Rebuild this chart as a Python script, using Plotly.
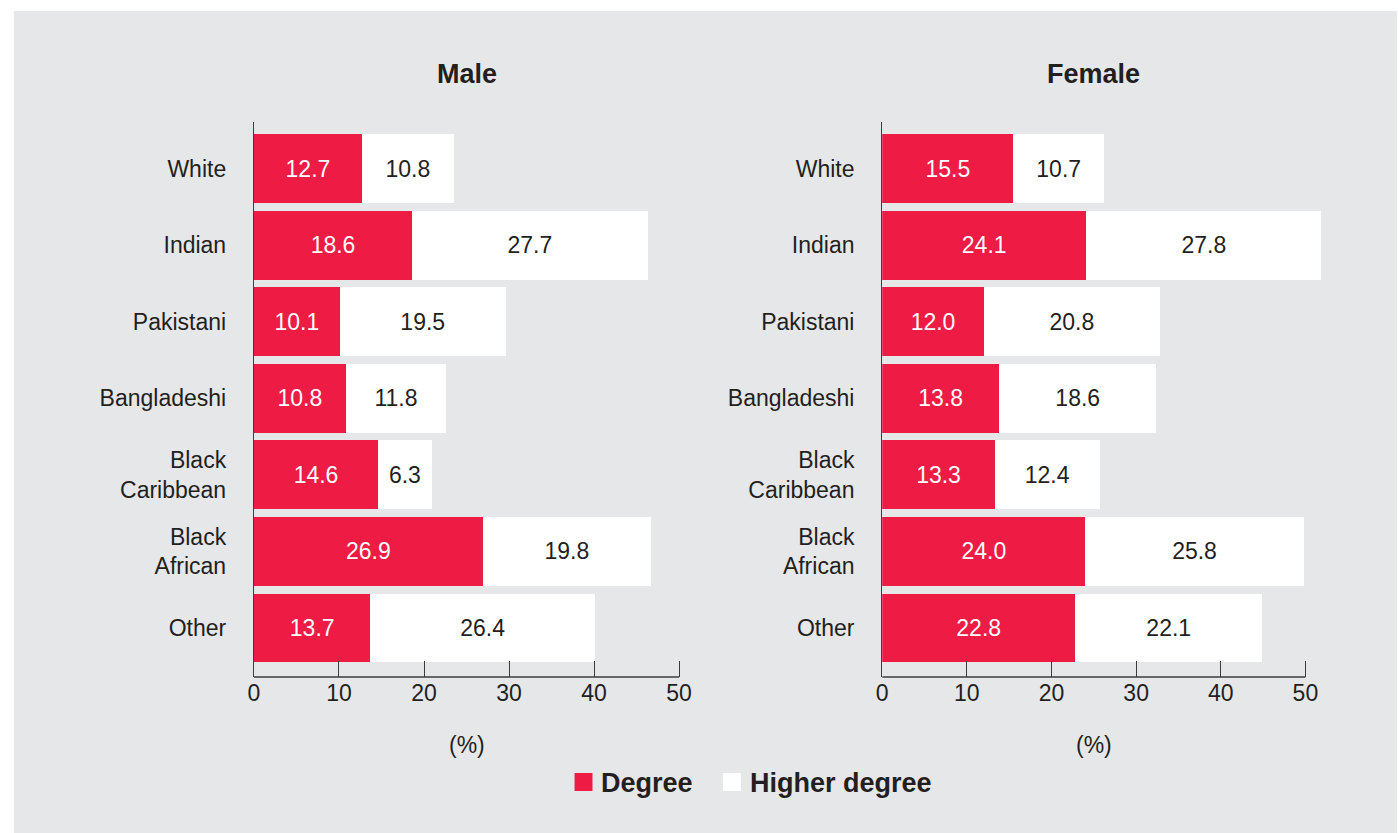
import plotly.graph_objects as go

# Ethnic groups, top to bottom
groups = ["White", "Indian", "Pakistani", "Bangladeshi",
          "Black<br>Caribbean", "Black<br>African", "Other"]

# Percentages holding a first degree / a higher degree
male_degree = [12.7, 18.6, 10.1, 10.8, 14.6, 26.9, 13.7]
male_higher = [10.8, 27.7, 19.5, 11.8, 6.3, 19.8, 26.4]
female_degree = [15.5, 24.1, 12.0, 13.8, 13.3, 24.0, 22.8]
female_higher = [10.7, 27.8, 20.8, 18.6, 12.4, 25.8, 22.1]

x_ticks = [0, 10, 20, 30, 40, 50]

RED = "#ee1b45"
WHITE = "#ffffff"
INK = "#231f20"
AXIS = "#3c3c3c"
PANEL = "#e6e7e9"
FONT = "Liberation Sans, Arial, Helvetica, sans-serif"

W, H = 1398, 833
X_MAX = 52.3  # room for bars that run past the last tick


def px_x(p):
    return p / W


def px_y(p):
    return 1 - p / H


fig = go.Figure()


def add_pair(deg, hig, xa, ya):
    for vals, col, tcol in ((deg, RED, WHITE), (hig, WHITE, INK)):
        fig.add_trace(go.Bar(
            y=groups, x=vals, orientation="h",
            marker=dict(color=col, line=dict(width=0)),
            width=0.9,
            text=[f"{v:.1f}" for v in vals],
            textposition="inside", insidetextanchor="middle",
            textangle=0,
            insidetextfont=dict(family=FONT, size=23, color=tcol),
            showlegend=False, hoverinfo="skip",
            xaxis=xa, yaxis=ya,
        ))


add_pair(male_degree, male_higher, "x", "y")
add_pair(female_degree, female_higher, "x2", "y2")

y_bottom = px_y(677)
y_dom = [y_bottom, px_y(122)]


def x_domain(px0, px50):
    scale = (px50 - px0) / 50
    return [px_x(px0), px_x(px0 + scale * X_MAX)]


xa_common = dict(
    range=[0, X_MAX], tickvals=x_ticks, ticktext=[str(t) for t in x_ticks],
    ticks="inside", ticklen=16, tickwidth=1.3, tickcolor=AXIS,
    showline=False, showgrid=False, zeroline=False, fixedrange=True,
    tickfont=dict(family=FONT, size=23, color=INK),
)
ya_common = dict(
    type="category", categoryorder="array", categoryarray=groups,
    range=[6.64, -0.61], domain=y_dom,
    showline=True, linecolor=AXIS, linewidth=1.3,
    ticks="", showgrid=False, zeroline=False, fixedrange=True,
    ticklabelstandoff=22,
    tickfont=dict(family=FONT, size=23, color=INK),
)

fig.update_layout(
    width=W, height=H, autosize=False,
    margin=dict(l=0, r=0, t=0, b=0),
    paper_bgcolor="white", plot_bgcolor="rgba(0,0,0,0)",
    barmode="stack", bargap=0.1,
    font=dict(family=FONT, color=INK),
    xaxis=dict(domain=x_domain(249, 676), anchor="y", **xa_common),
    xaxis2=dict(domain=x_domain(880, 1305), anchor="y2", **xa_common),
    yaxis=dict(anchor="x", **ya_common),
    yaxis2=dict(anchor="x2", **ya_common),
)

# grey panel behind the whole chart
fig.add_shape(type="rect", xref="paper", yref="paper", layer="below",
              x0=px_x(8), x1=px_x(1397), y0=0, y1=px_y(11),
              fillcolor=PANEL, line=dict(width=0))

# x-axis baselines, running from 0 to the last tick only
for xr in ("x", "x2"):
    fig.add_shape(type="line", xref=xr, yref="paper",
                  x0=0, x1=x_ticks[-1], y0=y_bottom, y1=y_bottom,
                  line=dict(color=AXIS, width=1.3))

ann = []
# panel titles and axis units
for cx, title in ((462.5, "Male"), (1092.5, "Female")):
    ann.append(dict(x=px_x(cx), y=px_y(74), xref="paper", yref="paper",
                    text=f"<b>{title}</b>", showarrow=False,
                    xanchor="center", yanchor="middle",
                    font=dict(family=FONT, size=27, color=INK)))
    ann.append(dict(x=px_x(cx), y=px_y(745), xref="paper", yref="paper",
                    text="(%)", showarrow=False,
                    xanchor="center", yanchor="middle",
                    font=dict(family=FONT, size=23, color=INK)))

# legend
legend_items = [("Degree", RED, 571), ("Higher degree", WHITE, 720)]
for label, col, lx in legend_items:
    fig.add_shape(type="rect", xref="paper", yref="paper",
                  x0=px_x(lx), x1=px_x(lx + 18),
                  y0=px_y(791), y1=px_y(773),
                  fillcolor=col, line=dict(width=0))
    ann.append(dict(x=px_x(lx + 25), y=px_y(783), xref="paper", yref="paper",
                    text=f"<b>{label}</b>", showarrow=False,
                    xanchor="left", yanchor="middle",
                    font=dict(family=FONT, size=27, color=INK)))

fig.update_layout(annotations=ann)

page_css = (
    "document.documentElement.style.margin='0';"
    "document.body.style.margin='0';"
    "document.documentElement.style.overflow='hidden';"
    "document.body.style.overflow='hidden';"
)
fig.write_html("out.html", config={"responsive": False}, post_script=page_css)
